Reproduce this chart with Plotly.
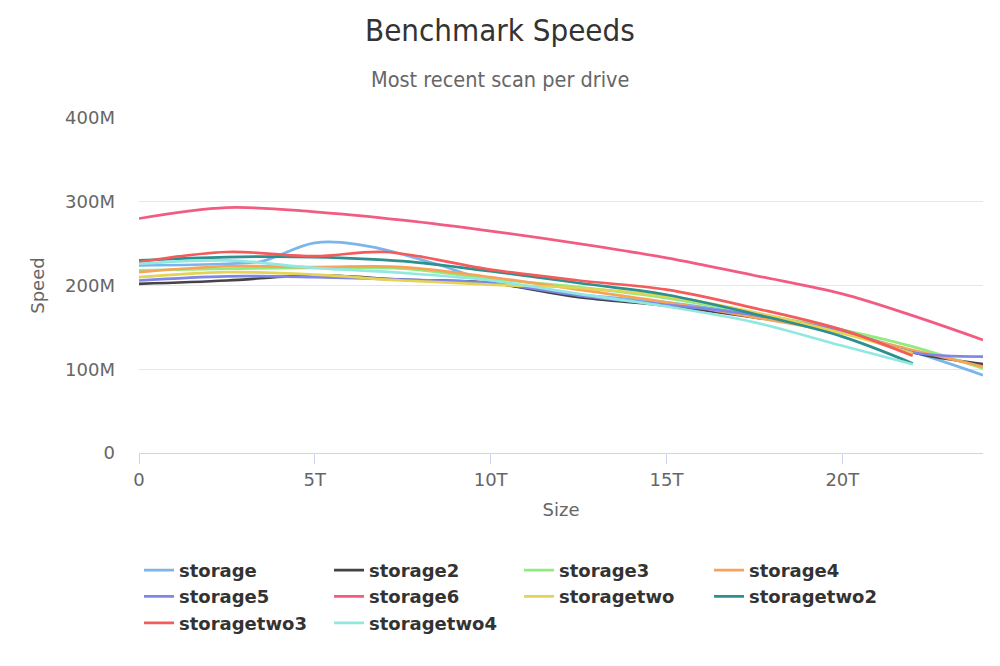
import plotly.graph_objects as go

# Size in TB, speed in MB/s
series_names = ["storage", "storage2", "storage3", "storage4", "storage5",
                "storage6", "storagetwo", "storagetwo2", "storagetwo3", "storagetwo4"]
colors = ["#7cb5ec", "#434348", "#90ed7d", "#f7a35c", "#8085e9",
          "#f15c80", "#e4d354", "#2b908f", "#f45b5b", "#91e8e1"]

size_storage = [0, 2.5, 3.5, 5, 6.5, 8.5, 10, 12.5, 15, 17.5, 20, 22, 24]
speed_storage = [224, 226, 229, 251, 247, 225, 205, 189, 180, 165, 145, 121, 93]

size_storage2 = [0, 2.5, 5, 7.5, 10, 12.5, 15, 17.5, 20, 22, 24]
speed_storage2 = [202, 206, 212, 207, 203, 186, 176, 162, 145, 120, 106]

size_storage3 = [0, 2.5, 5, 7.5, 10, 12.5, 15, 17.5, 20, 22, 24]
speed_storage3 = [218, 220, 221, 220, 208, 198, 185, 167, 147, 127, 101]

size_storage4 = [0, 2.5, 5, 7.5, 10, 12.5, 15, 17.5, 20, 22, 24]
speed_storage4 = [216, 223, 222, 222, 210, 195, 180, 162, 143, 123, 103]

size_storage5 = [0, 2.5, 5, 7.5, 10, 12.5, 15, 17.5, 20, 22, 24]
speed_storage5 = [206, 211, 210, 207, 203, 188, 177, 165, 145, 120, 115]

size_storage6 = [0, 2.5, 5, 7.5, 10, 12.5, 15, 17.5, 20, 22, 24]
speed_storage6 = [280, 293, 288, 278, 265, 250, 233, 212, 190, 164, 135]

size_storagetwo = [0, 2.5, 5, 7.5, 10, 12.5, 15, 17.5, 20, 22]
speed_storagetwo = [210, 216, 213, 206, 201, 197, 187, 168, 143, 119]

size_storagetwo2 = [0, 2.5, 5, 7.5, 10, 12.5, 15, 17.5, 20, 22]
speed_storagetwo2 = [230, 234, 234, 229, 217, 203, 189, 166, 139, 107]

size_storagetwo3 = [0, 2.5, 5, 7, 10, 12.5, 15, 17.5, 20, 22]
speed_storagetwo3 = [228, 240, 235, 240, 219, 206, 195, 173, 147, 116]

size_storagetwo4 = [0, 2.5, 5, 7.5, 10, 12.5, 15, 17.5, 20, 22]
speed_storagetwo4 = [226, 230, 221, 215, 206, 190, 175, 156, 128, 106]

sizes = [size_storage, size_storage2, size_storage3, size_storage4, size_storage5,
         size_storage6, size_storagetwo, size_storagetwo2, size_storagetwo3, size_storagetwo4]
speeds = [speed_storage, speed_storage2, speed_storage3, speed_storage4, speed_storage5,
          speed_storage6, speed_storagetwo, speed_storagetwo2, speed_storagetwo3, speed_storagetwo4]

y_tick_vals = [0, 100, 200, 300, 400]
y_tick_text = ["0", "100M", "200M", "300M", "400M"]
x_tick_vals = [0, 5, 10, 15, 20]
x_tick_text = ["0", "5T", "10T", "15T", "20T"]

FONT = "DejaVu Sans"
PLOT_L, PLOT_W = 139, 844
title_x = (500 - PLOT_L) / PLOT_W

fig = go.Figure()
for name, col, xs, ys in zip(series_names, colors, sizes, speeds):
    fig.add_trace(go.Scatter(x=xs, y=ys, name=name, mode="lines",
                             line=dict(color=col, width=2.7, shape="spline", smoothing=1.0)))

fig.update_layout(
    width=1000, height=666,
    margin=dict(l=PLOT_L, r=1000 - PLOT_L - PLOT_W, t=118, b=213),
    paper_bgcolor="white", plot_bgcolor="white",
    font=dict(family=FONT, size=18, color="#666666"),
    showlegend=True,
    legend=dict(orientation="h", x=0, xanchor="left", y=-0.295, yanchor="top",
                entrywidth=145, entrywidthmode="pixels",
                font=dict(family=FONT, size=18, color="#333333", weight="bold"),
                tracegroupgap=0, itemwidth=30),
    annotations=[
        dict(text="Benchmark Speeds", xref="paper", yref="paper", x=title_x, y=1,
             xanchor="center", yanchor="middle", yshift=118 - 30, showarrow=False,
             font=dict(family="DejaVu Sans Condensed", size=31, color="#333333")),
        dict(text="Most recent scan per drive", xref="paper", yref="paper", x=title_x, y=1,
             xanchor="center", yanchor="middle", yshift=118 - 79, showarrow=False,
             font=dict(family="DejaVu Sans Condensed", size=21.5, color="#666666")),
    ],
)
fig.update_xaxes(range=[0, 24], tickvals=x_tick_vals, ticktext=x_tick_text,
                 showgrid=False, zeroline=False, showline=True, linecolor="#ccd6eb",
                 linewidth=1, ticks="outside", ticklen=10, tickcolor="#ccd6eb",
                 tickfont=dict(size=18, color="#666666"),
                 title=dict(text="Size", font=dict(size=18, color="#666666"), standoff=14))
fig.update_yaxes(range=[0, 400], tickvals=y_tick_vals, ticktext=y_tick_text,
                 showgrid=True, gridcolor="#e6e6e6", gridwidth=1, zeroline=False,
                 showline=False, ticks="", ticklabelstandoff=23,
                 tickfont=dict(size=18, color="#666666"),
                 title=dict(text="Speed", font=dict(size=18, color="#666666"), standoff=15))

fig.write_html("out.html")
